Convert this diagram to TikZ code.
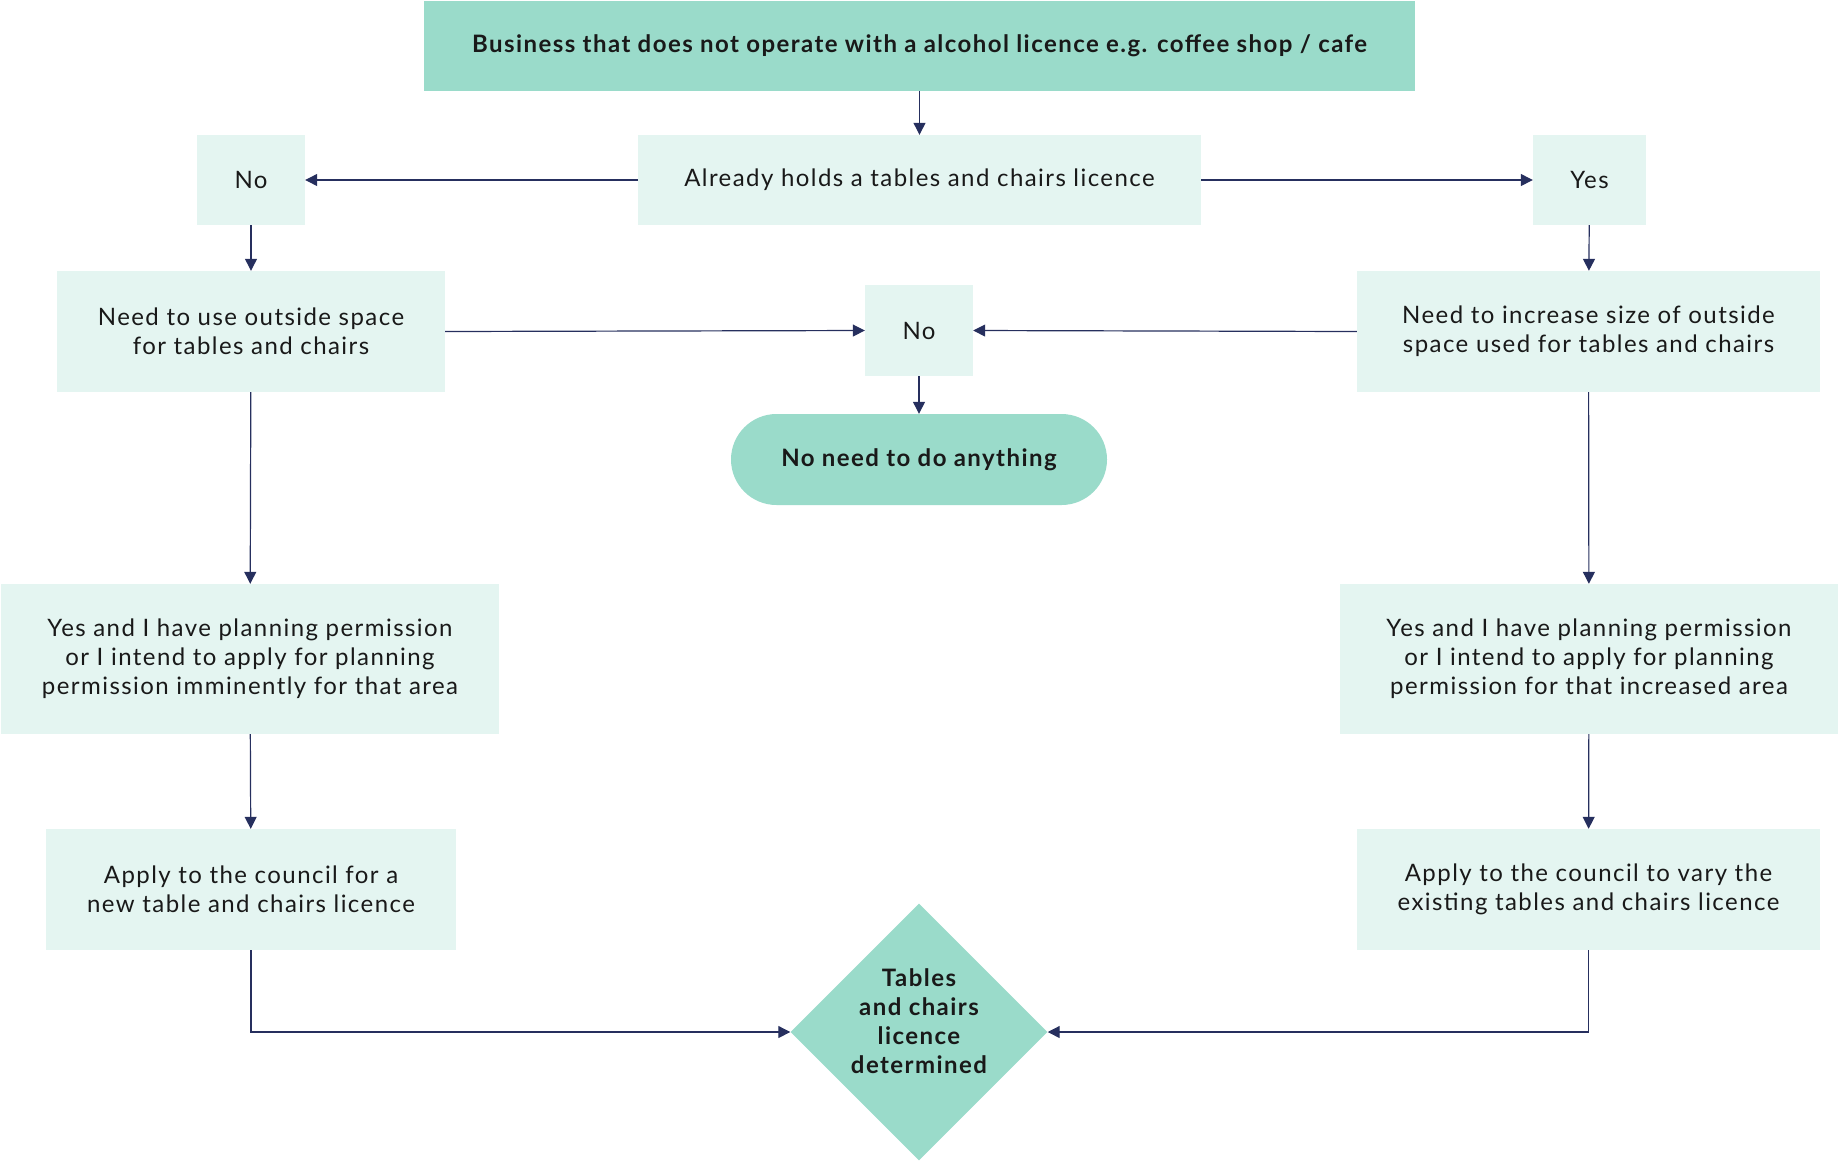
\documentclass[tikz,border=0pt]{standalone}
\usepackage{fontspec}
\setmainfont{Lato}[LetterSpace=6]
\usetikzlibrary{shapes.geometric,arrows.meta}
\definecolor{dark}{HTML}{9ADBCA}
\definecolor{light}{HTML}{E4F5F1}
\definecolor{navy}{HTML}{262F5E}
\begin{document}
\begin{tikzpicture}[x=1pt,y=-1pt,
  base/.style={inner sep=0pt, align=center, font=\fontsize{24}{29}\selectfont, text=black!90},
  lbox/.style={base, rectangle, fill=light},
  dbox/.style={base, rectangle, fill=dark, font=\fontsize{24}{29}\selectfont\bfseries},
  conn/.style={draw=navy, line width=1.2pt, -{Triangle[length=12pt,width=12pt]}}
]
\useasboundingbox (0,0) rectangle (1838,1163);
\node[dbox, minimum width=991, minimum height=90] (top) at (919.5,46) {Business that does not operate with a alcohol licence e.g. coffee shop / cafe};
\node[lbox, minimum width=563, minimum height=90] (already) at (919.5,180) {Already holds a tables and chairs licence};
\node[lbox, minimum width=108, minimum height=90] (noL) at (251,180) {No};
\node[lbox, minimum width=113, minimum height=90] (yesR) at (1589.5,180) {Yes};
\node[lbox, minimum width=388, minimum height=121] (needL) at (251,331.5) {Need to use outside space\\for tables and chairs};
\node[lbox, minimum width=108, minimum height=91] (noM) at (919,330.5) {No};
\node[lbox, minimum width=463, minimum height=121] (needR) at (1588.5,331.5) {Need to increase size of outside\\space used for tables and chairs};
\node[dbox, minimum width=376, minimum height=91, rounded corners=45.5pt] (nothing) at (919,459.5) {No need to do anything};
\node[lbox, minimum width=498, minimum height=150] (yesL) at (250,659) {Yes and I have planning permission\\or I intend to apply for planning\\permission imminently for that area};
\node[lbox, minimum width=498, minimum height=150] (yesR2) at (1589,659) {Yes and I have planning permission\\or I intend to apply for planning\\permission for that increased area};
\node[lbox, minimum width=410, minimum height=121] (applyL) at (251,889.5) {Apply to the council for a\\new table and chairs licence};
\node[lbox, minimum width=463, minimum height=121] (applyR) at (1588.5,889.5) {Apply to the council to vary the\\existing tables and chairs licence};
\node[dbox, diamond, aspect=1, minimum width=257, minimum height=257] (det) at (919,1032) {};
\node[base, font=\fontsize{24}{29}\selectfont\bfseries] (detText) at (919,1021) {Tables\\and chairs\\licence\\determined};

\draw[conn] (top) -- (already);
\draw[conn] (already) -- (noL);
\draw[conn] (already) -- (yesR);
\draw[conn] (noL) -- (needL);
\draw[conn] (yesR) -- (needR);
\draw[conn] (needL.east) -- (noM.west);
\draw[conn] (needR.west) -- (noM.east);
\draw[conn] (noM) -- (nothing);
\draw[conn] (needL) -- (yesL);
\draw[conn] (needR) -- (yesR2);
\draw[conn] (yesL) -- (applyL);
\draw[conn] (yesR2) -- (applyR);
\draw[conn] (applyL.south) |- (det.west);
\draw[conn] (applyR.south) |- (det.east);
\end{tikzpicture}
\end{document}
